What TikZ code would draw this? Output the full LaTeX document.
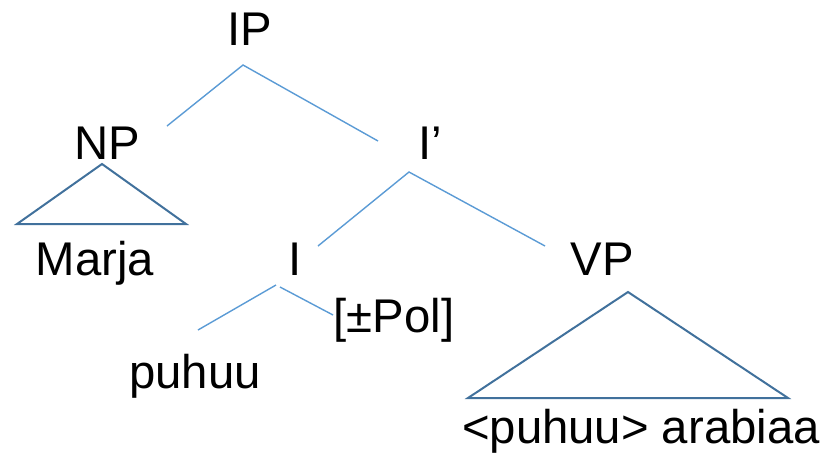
\documentclass[tikz,border=0pt]{standalone}
\usepackage{fontspec}
\setmainfont{Liberation Sans}
\definecolor{branch}{RGB}{91,155,213}
\definecolor{roof}{RGB}{65,113,156}
\begin{document}
\begin{tikzpicture}[x=1pt,y=-1pt,
  lbl/.style={anchor=base,inner sep=0pt,font=\fontsize{47.3}{56}\selectfont},
  edge/.style={draw=branch,line width=1.4pt},
  tri/.style={draw=roof,line width=2pt,line join=miter}]
\useasboundingbox (0,0) rectangle (831,459);

% labels
\node[lbl] (ip)    at (250,45)  {IP};
\node[lbl] (np)    at (107.5,159) {NP};
\node[lbl] (ibar)  at (430,159) {I’};
\node[lbl] (marja) at (95,275)  {Marja};
\node[lbl] (i)     at (295,275) {I};
\node[lbl] (vp)    at (602,275) {VP};
\node[lbl] (pol)   at (394,332) {[±Pol]};
\node[lbl] (puhuu) at (195,388) {puhuu};
\node[lbl] (vpstr) at (641,443) {<puhuu> arabiaa};

% branch end points
\coordinate (ipTop)  at (243,65);
\coordinate (ipL)    at (167,126);
\coordinate (ipR)    at (378,141);
\coordinate (ibTop)  at (409,172);
\coordinate (ibL)    at (318,246);
\coordinate (ibR)    at (545,246);
\coordinate (iTopL)  at (276,285);
\coordinate (iTopR)  at (280,287);
\coordinate (iL)     at (198,330);
\coordinate (iR)     at (333,315);

% IP
\draw[edge] (ipL) -- (ipTop) -- (ipR);
% I'
\draw[edge] (ibL) -- (ibTop) -- (ibR);
% I
\draw[edge] (iTopL) -- (iL);
\draw[edge] (iTopR) -- (iR);

% roofs
\coordinate (npA) at (102,164);
\coordinate (npB) at (17,224);
\coordinate (npC) at (186,224);
\draw[tri] (npA) -- (npB) -- (npC) -- cycle;

\coordinate (vpA) at (628,292);
\coordinate (vpB) at (468,398);
\coordinate (vpC) at (788,398);
\draw[tri] (vpA) -- (vpB) -- (vpC) -- cycle;
\end{tikzpicture}
\end{document}
